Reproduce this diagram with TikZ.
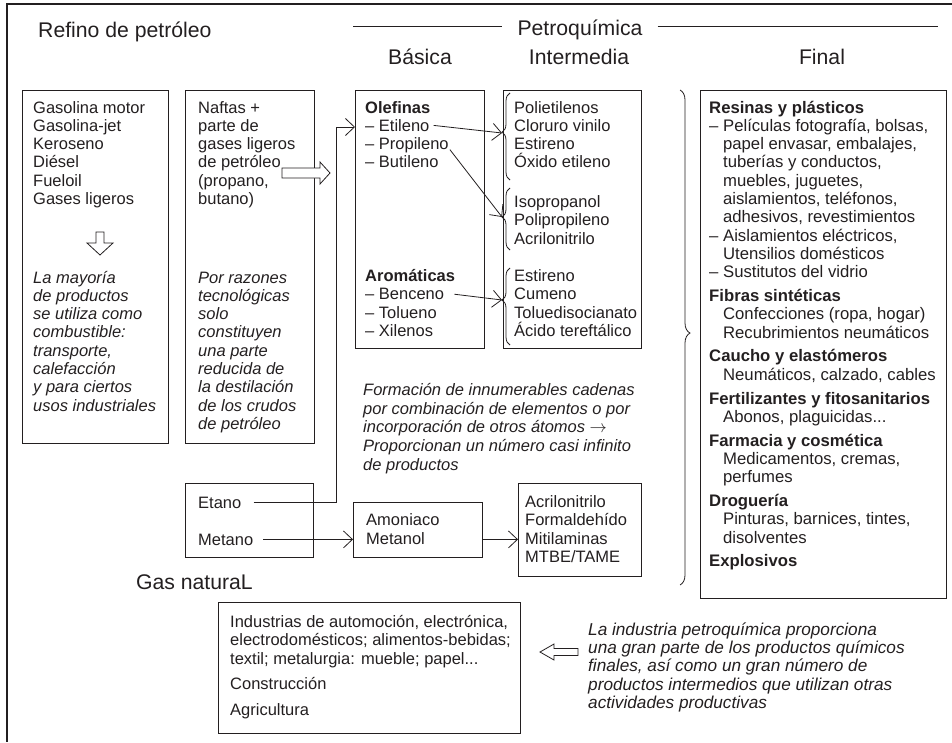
\documentclass[tikz,border=0pt]{standalone}
\usepackage{fontspec}
\setmainfont{Liberation Sans}
\usetikzlibrary{arrows.meta,decorations.pathreplacing}
\definecolor{ink}{RGB}{35,31,32}
\newcommand\bodysize{\fontsize{16.5}{18.3}\selectfont}
\newcommand\finsize{\fontsize{16.7}{18.3}\selectfont}
\newcommand\notesize{\fontsize{17.2}{18.6}\selectfont}
\newcommand\titlesize{\fontsize{21.2}{25}\selectfont}
\newcommand\threedots{...}
% \txtlines{name}{x}{first baseline}{spacing}{style}{list}
\newcommand\txtlines[6]{%
  \foreach \myitem [count=\k] in {#6}{%
    \node[txt,#5,anchor=base west] (#1-\k) at (#2,{#3+(\k-1)*#4}) {\myitem};}}
\tikzset{
  txt/.style={inner sep=0pt, text=ink, font=\bodysize},
  it/.style={font=\bodysize\itshape},
  fin/.style={font=\finsize},
  note/.style={font=\notesize\itshape},
  ttl/.style={inner sep=0pt, text=ink, font=\titlesize},
  box/.style={draw=ink, line width=0.9pt, inner sep=0pt, anchor=north west},
  thinl/.style={draw=ink, line width=0.9pt},
  frame/.style={draw=ink, line width=1.5pt},
  conn/.style={draw=ink, line width=0.8pt, -{Straight Barb[length=9pt,width=17pt]}},
  hollow/.style={draw=ink, line width=0.8pt, fill=white, line join=miter},
  brc/.style 2 args={draw=ink, line width=0.8pt, decorate,
     decoration={brace, amplitude=#1, aspect=#2}},
}
\begin{document}
\begin{tikzpicture}[x=1pt,y=-1pt]
\useasboundingbox (0,0) rectangle (952,742);
% frame
\draw[frame] (952,4) -- (7,4) -- (7,742);

% headers
\node[ttl,anchor=base west] (refino) at (38,37) {Refino de petróleo};
\node[ttl,anchor=base] (petro) at (580,35) {Petroquímica};
\coordinate (hlL) at (353,26);
\coordinate (hlR) at (938,26);
\draw[thinl] (hlL) -- ([xshift=-15pt]petro.west |- hlL);
\draw[thinl] ([xshift=15pt]petro.east |- hlR) -- (hlR);
\node[ttl,anchor=base] (basica) at (420,64) {Básica};
\node[ttl,anchor=base] (inter) at (579,64) {Intermedia};
\node[ttl,anchor=base] (final) at (822,64) {Final};

% boxes
\node[box,minimum width=146pt,minimum height=353pt] (b1) at (22,90) {};
\node[box,minimum width=129pt,minimum height=353pt] (b2) at (185,90) {};
\node[box,minimum width=129pt,minimum height=258pt] (ole) at (355,90) {};
\node[box,minimum width=138pt,minimum height=258pt] (int) at (503,90) {};
\node[box,minimum width=246pt,minimum height=508pt] (finb) at (700,90) {};
\node[box,minimum width=128pt,minimum height=74pt] (gas) at (185,483) {};
\node[box,minimum width=129pt,minimum height=55pt] (amo) at (353,502) {};
\node[box,minimum width=123pt,minimum height=93pt] (mtbe) at (518,483) {};
\node[box,minimum width=302pt,minimum height=131pt] (bot) at (218,602) {};

% column 1
\txtlines{ca}{33}{113}{18.3}{}{Gasolina motor,Gasolina-jet,Keroseno,Diésel,Fueloil,Gases ligeros}
\txtlines{cai}{33}{283}{18.3}{it}{La mayoría,de productos,se utiliza como,combustible:,{transporte,},calefacción,y para ciertos,usos industriales}
\coordinate (hd) at (100,232);
\draw[hollow] (hd) ++(-4,0) -- ++(8,0) -- ++(0,11) -- ++(9,0) -- ++(-13,12) -- ++(-13,-12) -- ++(9,0) -- cycle;

% column 2
\txtlines{cb}{198}{113}{18.3}{}{Naftas +,parte de,gases ligeros,de petróleo,{(propano,},butano)}
\txtlines{cbi}{198}{283}{18.3}{it}{Por razones,tecnológicas,solo,constituyen,una parte,reducida de,la destilación,de los crudos,de petróleo}
\coordinate (hn) at (282,173);
\draw[hollow] (hn) ++(0,-5) -- ++(38,0) -- ++(0,-6) -- ++(10,11) -- ++(-10,11) -- ++(0,-6) -- ++(-38,0) -- cycle;

% Basica
\txtlines{ol}{365}{113}{18.3}{}{\textbf{Olefinas},– Etileno,– Propileno,– Butileno}
\txtlines{ar}{365}{281.5}{18.3}{}{\textbf{Aromáticas},– Benceno,– Tolueno,– Xilenos}

% Intermedia
\txtlines{ia}{514}{113}{18.3}{}{Polietilenos,Cloruro vinilo,Estireno,Óxido etileno}
\txtlines{ib}{514}{207.5}{18.3}{}{Isopropanol,Polipropileno,Acrilonitrilo}
\txtlines{ic}{514}{281.5}{18.3}{}{Estireno,Cumeno,Toluedisocianato,Ácido tereftálico}
\draw[brc={8pt}{0.55}] (510,180) -- (510,93);
\draw[brc={8pt}{0.532}] (510,250) -- (510,188);
\draw[brc={8pt}{0.584}] (510,345) -- (510,268);
\coordinate (g1) at (502,133);
\coordinate (g2) at (502,217);
\coordinate (g3) at (502,300);
\draw[conn] ([xshift=4pt]ol-2.east) -- (g1);
\draw[conn] ([xshift=1pt]ol-3.base east) -- (g2);
\draw[conn] ([xshift=10pt]ar-2.east) -- (g3);

% big brace
\draw[brc={10pt}{0.491}] (680,90) -- (680,585);

% Final
\txtlines{fa}{709}{113}{18.3}{fin}{\textbf{Resinas y plásticos},{– Películas fotografía, bolsas,},{\phantom{– }papel envasar, embalajes,},{\phantom{– }tuberías y conductos,},{\phantom{– }muebles, juguetes,},{\phantom{– }aislamientos, teléfonos,},{\phantom{– }adhesivos, revestimientos},{– Aislamientos eléctricos,},\phantom{– }Utensilios domésticos,– Sustitutos del vidrio}
\txtlines{fb}{709}{301.5}{18.3}{fin}{\textbf{Fibras sintéticas},{\phantom{– }Confecciones (ropa, hogar)},\phantom{– }Recubrimientos neumáticos}
\txtlines{fc}{709}{361.9}{18.3}{fin}{\textbf{Caucho y elastómeros},{\phantom{– }Neumáticos, calzado, cables}}
\txtlines{fd}{709}{404}{18.3}{fin}{\textbf{Fertilizantes y fitosanitarios},{\phantom{– }Abonos, plaguicidas\threedots}}
\txtlines{fe}{709}{446.1}{18.3}{fin}{\textbf{Farmacia y cosmética},{\phantom{– }Medicamentos, cremas,},\phantom{– }perfumes}
\txtlines{ff}{709}{506.5}{18.3}{fin}{\textbf{Droguería},{\phantom{– }Pinturas, barnices, tintes,},\phantom{– }disolventes}
\txtlines{fg}{709}{566.9}{18.3}{fin}{\textbf{Explosivos}}

% middle note
\txtlines{mn}{363}{395.5}{18.7}{it}{Formación de innumerables cadenas,por combinación de elementos o por,incorporación de otros átomos $\rightarrow$,Proporcionan un número casi infinito,de productos}

% gas natural
\node[txt,anchor=base west] (etano) at (198,508) {Etano};
\node[txt,anchor=base west] (metano) at (198,545) {Metano};
\node[ttl,anchor=base east] (gasnat) at (253,589) {Gas naturaL};
\coordinate (j) at (336,127);
\draw[conn] ([xshift=12pt]etano.east) -| (j) -- (ole.west |- j);
\draw[conn] ([xshift=10pt]metano.east) -- (amo.west |- metano.east);
\txtlines{am}{366}{525}{19}{}{Amoniaco,Metanol}
\draw[conn] (amo.east |- metano.east) -- (mtbe.west |- metano.east);
\txtlines{mt}{525}{507}{18.5}{}{Acrilonitrilo,Formaldehído,Mitilaminas,MTBE/TAME}

% bottom
\txtlines{ba}{230}{627.5}{18.3}{}{{Industrias de automoción, electrónica,},{electrodomésticos; alimentos-bebidas;},{textil; metalurgia: mueble; papel\threedots}}
\txtlines{bb}{230}{689}{26}{}{Construcción,Agricultura}
\coordinate (ha) at (540,652);
\draw[hollow] (ha) -- ++(14,-8) -- ++(0,4.5) -- ++(24,0) -- ++(0,7) -- ++(-24,0) -- ++(0,4.5) -- cycle;
\txtlines{rn}{588}{635}{18.4}{note}{La industria petroquímica proporciona,una gran parte de los productos químicos,{finales, así como un gran número de},productos intermedios que utilizan otras,actividades productivas}
\end{tikzpicture}
\end{document}
